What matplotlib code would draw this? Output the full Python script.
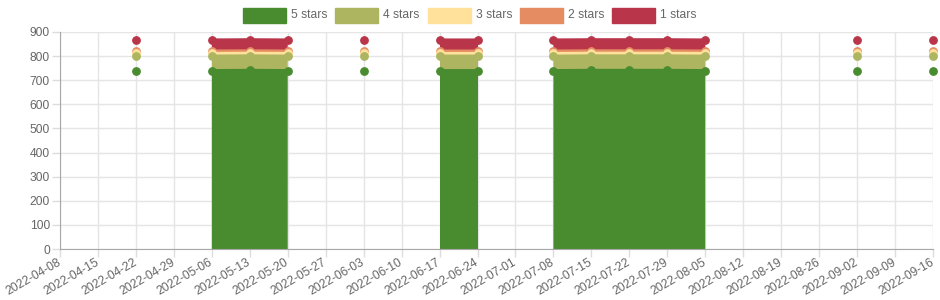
import numpy as np
import pandas as pd
import matplotlib
matplotlib.use("Agg")
import matplotlib.pyplot as plt
import matplotlib.dates as mdates
from matplotlib.patches import Rectangle

plt.rcParams["font.family"] = ["Liberation Sans", "DejaVu Sans"]

# Weekly snapshots (None = no data that week)
dates = ["2022-04-08", "2022-04-15", "2022-04-22", "2022-04-29", "2022-05-06",
         "2022-05-13", "2022-05-20", "2022-05-27", "2022-06-03", "2022-06-10",
         "2022-06-17", "2022-06-24", "2022-07-01", "2022-07-08", "2022-07-15",
         "2022-07-22", "2022-07-29", "2022-08-05", "2022-08-12", "2022-08-19",
         "2022-08-26", "2022-09-02", "2022-09-09", "2022-09-16"]
N = None
stars5 = [N, N, 740, N, 740, 741, 740, N, 740, N, 740, 740, N, 740, 741, 741, 741, 740, N, N, N, 740, N, 740]
stars4 = [N, N, 60, N, 60, 60, 60, N, 60, N, 60, 60, N, 60, 60, 60, 60, 60, N, N, N, 60, N, 60]
stars3 = [N, N, 11, N, 11, 11, 11, N, 11, N, 11, 11, N, 11, 11, 11, 11, 11, N, N, N, 11, N, 11]
stars2 = [N, N, 10, N, 10, 10, 10, N, 10, N, 10, 10, N, 10, 10, 10, 10, 10, N, N, N, 10, N, 10]
stars1 = [N, N, 46, N, 46, 46, 46, N, 46, N, 46, 46, N, 46, 46, 46, 46, 46, N, N, N, 46, N, 46]

labels = ["5 stars", "4 stars", "3 stars", "2 stars", "1 stars"]
colors = ["#498c30", "#adb560", "#ffe19c", "#e58c62", "#b9364a"]

x = pd.to_datetime(dates)
series = [np.array(s, dtype=float) for s in [stars5, stars4, stars3, stars2, stars1]]
tops = np.cumsum(series, axis=0)

fig = plt.figure(figsize=(9.4, 3.0), dpi=100)
ax = fig.add_axes([60 / 940, 1 - 249 / 300, (933 - 60) / 940, (249 - 32) / 300])

# stacked fills, each down to the previous series
for i in range(len(labels)):
    lower = np.zeros(len(x)) if i == 0 else tops[i - 1]
    lower = np.where(np.isnan(tops[i]), np.nan, lower)
    ax.fill_between(x, lower, tops[i], color=colors[i], lw=0, zorder=2 + (5 - i) * 0.1)

# lines and points; first series drawn on top
for i in reversed(range(len(labels))):
    ax.plot(x, tops[i], color=colors[i], lw=2.2, marker="o", ms=5.3,
            mec=colors[i], mfc=colors[i], zorder=5 + (5 - i), clip_on=False)

ax.set_xlim(x[0], x[-1])
ax.set_ylim(0, 900)
ax.set_yticks(np.arange(0, 901, 100))
ax.set_xticks(x)
ax.xaxis.set_major_formatter(mdates.DateFormatter("%Y-%m-%d"))
for lab in ax.get_xticklabels():
    lab.set_rotation(30)
    lab.set_ha("right")
    lab.set_va("center")
    lab.set_rotation_mode("anchor")

ax.grid(True, color="#e5e5e5", lw=1)
ax.set_axisbelow(True)
ax.tick_params(colors="#dddddd", labelcolor="#666666", labelsize=8.64, length=5.8, width=1)
ax.tick_params(axis="x", pad=3)
ax.tick_params(axis="y", pad=1.5)
for side in ["top", "right"]:
    ax.spines[side].set_visible(False)
for side in ["left", "bottom"]:
    ax.spines[side].set_color("#a8a8a8")

# legend, Chart.js style
bx = 243
for i, lab in enumerate(labels):
    fig.patches.append(Rectangle((bx / 940, 1 - 23 / 300), 43 / 940, 15 / 300,
                                 transform=fig.transFigure, facecolor=colors[i],
                                 edgecolor=colors[i], lw=1))
    fig.text((bx + 48) / 940, 1 - 15.5 / 300, lab, color="#666666", fontsize=8.64,
             ha="left", va="center")
    bx += 92.3

fig.savefig("out.png", dpi=100)
